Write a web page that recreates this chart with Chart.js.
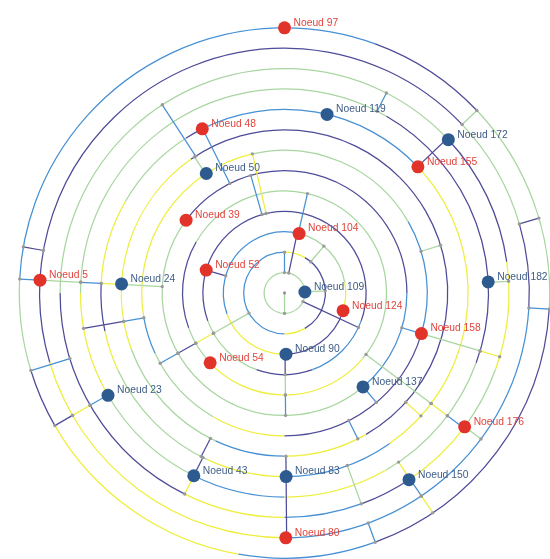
<!DOCTYPE html>
<html>
<head>
<meta charset="utf-8">
<script src="https://cdn.jsdelivr.net/npm/chart.js@4"></script>
<style>
  html, body { margin: 0; padding: 0; background: #fff; }
  #wrap { width: 550px; height: 559px; }
</style>
</head>
<body>
<div id="wrap"><canvas id="tree"></canvas></div>
<script>
// labelled nodes: ring number (0 = root) and angle in degrees, counter-clockwise from east
const nodeNames = ['Noeud 97', 'Noeud 119', 'Noeud 172', 'Noeud 155', 'Noeud 48', 'Noeud 50',
  'Noeud 39', 'Noeud 104', 'Noeud 52', 'Noeud 5', 'Noeud 24', 'Noeud 109', 'Noeud 124',
  'Noeud 182', 'Noeud 158', 'Noeud 54', 'Noeud 90', 'Noeud 137', 'Noeud 23', 'Noeud 176',
  'Noeud 43', 'Noeud 83', 'Noeud 150', 'Noeud 80'];
const nodeRings = [13, 9, 11, 9, 9, 7, 6, 3, 4, 12, 8, 1, 3, 10, 7, 5, 3, 6, 10, 11, 10, 9, 11, 12];
const nodeAngles = [90, 76.6, 43.1, 43.4, 116.6, 123.2, 143.5, 76.2, 163.7, 177, 176.8, 2.8, -16.8,
  3.1, -16.5, -136.8, -88.6, -50.1, -149.9, -36.6, -116.4, -89.5, -56.3, -89.7];
const nodeKinds = ['r', 'b', 'b', 'r', 'r', 'b', 'r', 'r', 'r', 'r', 'b', 'b', 'r',
  'b', 'r', 'r', 'b', 'b', 'b', 'r', 'b', 'b', 'b', 'r'];

// arcs along each ring: [ring, from angle, to angle, colour]
const ringArcs = [
  [1, 0, 360, 'G'],
  [2, 90, 270, 'B'], [2, 270, 300, 'Y'], [2, 300, 420, 'P'], [2, 60, 90, 'Y'],
  [3, 76, 200, 'B'], [3, 200, 268, 'Y'], [3, 268, 343, 'P'], [3, 343, 370, 'Y'], [3, 10, 76, 'G'],
  [4, 100, 200, 'P'], [4, 200, 250, 'G'], [4, 250, 290, 'P'], [4, 290, 340, 'B'], [4, 340, 460, 'P'],
  [5, 40, 150, 'G'], [5, 150, 200, 'P'], [5, 200, 223, 'G'], [5, 223, 320, 'Y'], [5, 320, 400, 'G'],
  [6, 60, 143.5, 'P'], [6, 143.5, 310, 'G'], [6, 310, 360, 'B'], [6, 0, 60, 'P'],
  [7, 343.5, 390, 'B'], [7, 30, 103, 'G'], [7, 103, 190, 'Y'], [7, 190, 205, 'B'], [7, 205, 240, 'G'],
  [7, 240, 270, 'Y'], [7, 270, 343.5, 'P'],
  [8, 45, 125, 'P'], [8, 125, 200, 'Y'], [8, 200, 245, 'G'], [8, 245, 270, 'B'], [8, 270, 300, 'Y'], [8, 300, 405, 'P'],
  [9, 43.4, 116.6, 'B'], [9, 116.6, 122.5, 'P'], [9, 122.5, 150, 'G'], [9, 150, 177, 'Y'], [9, 177, 192, 'P'],
  [9, 192, 205, 'Y'], [9, 205, 245, 'G'], [9, 245, 270, 'Y'], [9, 270, 305, 'B'], [9, 305, 403.4, 'Y'],
  [10, 60, 180, 'G'], [10, 180, 210, 'Y'], [10, 210, 243.6, 'G'], [10, 243.6, 270, 'B'], [10, 270, 300, 'Y'],
  [10, 300, 340, 'G'], [10, 340, 420, 'P'],
  [11, 43, 180, 'G'], [11, 180, 243.5, 'P'], [11, 243.5, 270, 'Y'], [11, 270, 290, 'B'], [11, 290, 303.7, 'P'],
  [11, 303.7, 323.4, 'Y'], [11, 323.4, 340, 'G'], [11, 340, 368, 'Y'], [11, 368, 403, 'P'],
  [12, 43.6, 196.5, 'P'], [12, 196.5, 270, 'Y'], [12, 270, 356.5, 'B'], [12, 356.5, 376.4, 'P'], [12, 376.4, 403.6, 'G'],
  [13, 70, 177, 'B'], [13, 177, 197, 'G'], [13, 197, 210, 'P'], [13, 210, 260, 'Y'], [13, 260, 290, 'B'],
  [13, 290, 356.5, 'P'], [13, 356.5, 403.4, 'G'], [13, 403.4, 430, 'P']
];

// radial links between rings: [angle, from ring, to ring, colour]
const radialLinks = [
  [90, 1, 2, 'B'], [-90, 0, 1, 'G'], [78, 1, 3, 'P'], [3, 1, 2, 'G'],
  [-89.5, 3, 4, 'P'], [-89.5, 4, 5, 'G'], [-89.5, 5, 6, 'B'], [-89.5, 8, 9, 'P'], [-89.5, 9, 12, 'P'],
  [177, 12, 13, 'B'], [177, 10, 12, 'G'], [177, 9, 10, 'B'], [177, 8, 9, 'Y'], [177, 6, 8, 'G'],
  [170, 12, 13, 'P'], [-163, 11, 13, 'B'],
  [-150, 10, 11, 'B'], [-150, 11, 12, 'Y'], [-150, 12, 13, 'P'],
  [43.5, 9, 11, 'P'], [43.5, 12, 13, 'G'], [16.4, 12, 13, 'P'], [-3.5, 12, 13, 'B'], [3, 10, 11, 'G'],
  [-70, 12, 13, 'B'],
  [-16.5, 6, 7, 'B'], [-16.5, 7, 10, 'G'], [-16.5, 10, 11, 'Y'],
  [-37, 5, 7, 'G'], [-37, 7, 9, 'G'], [-37, 9, 10, 'Y'], [-37, 10, 11, 'B'], [-36.6, 11, 12, 'G'],
  [-50, 6, 7, 'B'], [-25, 1, 4, 'P'],
  [-56, 10, 11, 'Y'], [-56, 11, 12, 'B'], [-56, 12, 13, 'Y'],
  [-116.4, 9, 10, 'P'], [-116.4, 10, 11, 'Y'],
  [-170, 7, 8, 'B'], [-170, 8, 10, 'P'],
  [-150.5, 2, 4, 'G'], [-150.5, 4, 5, 'Y'], [-150.5, 5, 6, 'P'], [-150.5, 6, 7, 'B'],
  [123, 8, 11, 'B'], [116.5, 6, 9, 'B'], [123.5, 7, 8, 'G'],
  [103, 4, 7, 'Y'], [106, 4, 6, 'B'], [77, 3, 5, 'B'], [63, 10, 11, 'B'], [17, 7, 8, 'G'],
  [50, 2, 3, 'G'], [163.7, 3, 4, 'P'],
  [-63.3, 7, 8, 'B'], [-117, 8, 9, 'P'], [-70, 9, 11, 'G'], [-42, 8, 9, 'Y']
];

const colours = { B: '#4690d4', P: '#4e4b98', G: '#a8d6a0', Y: '#eeee3c' };
const nodeColours = { r: '#e2332b', b: '#2e5b8f' };
const labelColours = { r: '#e0443c', b: '#3e5c86' };

const toRad = d => d * Math.PI / 180;
const polar = (ring, deg) => ({ x: ring * Math.cos(toRad(deg)), y: ring * Math.sin(toRad(deg)) });

const points = nodeNames.map((n, i) => polar(nodeRings[i], nodeAngles[i]));

const treePlugin = {
  id: 'radialTree',
  beforeDatasetsDraw(chart) {
    const ctx = chart.ctx;
    const xs = chart.scales.x, ys = chart.scales.y;
    const cx = xs.getPixelForValue(0), cy = ys.getPixelForValue(0);
    ctx.save();
    ctx.lineWidth = 1.25;
    ringArcs.forEach(([ring, a1, a2, c]) => {
      const r = xs.getPixelForValue(ring) - cx;
      ctx.strokeStyle = colours[c];
      ctx.beginPath();
      ctx.arc(cx, cy, r, -toRad(a1), -toRad(a2), true);
      ctx.stroke();
    });
    const ends = [];
    radialLinks.forEach(([deg, r1, r2, c]) => {
      const p1 = polar(r1, deg), p2 = polar(r2, deg);
      const x1 = xs.getPixelForValue(p1.x), y1 = ys.getPixelForValue(p1.y);
      const x2 = xs.getPixelForValue(p2.x), y2 = ys.getPixelForValue(p2.y);
      ctx.strokeStyle = colours[c];
      ctx.beginPath();
      ctx.moveTo(x1, y1);
      ctx.lineTo(x2, y2);
      ctx.stroke();
      ends.push([x1, y1], [x2, y2]);
    });
    ctx.fillStyle = '#9a9a9a';
    ends.forEach(([x, y]) => {
      ctx.beginPath();
      ctx.arc(x, y, 1.7, 0, Math.PI * 2);
      ctx.fill();
    });
    ctx.restore();
  },
  afterDatasetsDraw(chart) {
    const ctx = chart.ctx;
    const meta = chart.getDatasetMeta(0);
    ctx.save();
    ctx.font = '10.3px "Liberation Sans", Arial, sans-serif';
    ctx.textBaseline = 'middle';
    ctx.textAlign = 'left';
    meta.data.forEach((pt, i) => {
      ctx.fillStyle = labelColours[nodeKinds[i]];
      ctx.fillText(nodeNames[i], pt.x + 9, pt.y - 5);
    });
    ctx.restore();
  }
};

const ctx = document.getElementById('tree').getContext('2d');
const chart = new Chart(ctx, {
  type: 'scatter',
  data: {
    datasets: [{
      data: points,
      pointRadius: 6.5,
      pointHoverRadius: 6.5,
      pointBorderWidth: 0,
      pointBackgroundColor: nodeKinds.map(k => nodeColours[k]),
      pointBorderColor: nodeKinds.map(k => nodeColours[k]),
      clip: false
    }]
  },
  options: {
    responsive: true,
    maintainAspectRatio: false,
    animation: false,
    layout: { padding: 0, autoPadding: false },
    plugins: { legend: { display: false }, tooltip: { enabled: false } },
    scales: {
      x: { type: 'linear', display: false, min: -284.5 / 20.4, max: 265.5 / 20.4 },
      y: { type: 'linear', display: false, min: -266 / 20.4, max: 293 / 20.4 }
    }
  },
  plugins: [treePlugin]
});
</script>
</body>
</html>
